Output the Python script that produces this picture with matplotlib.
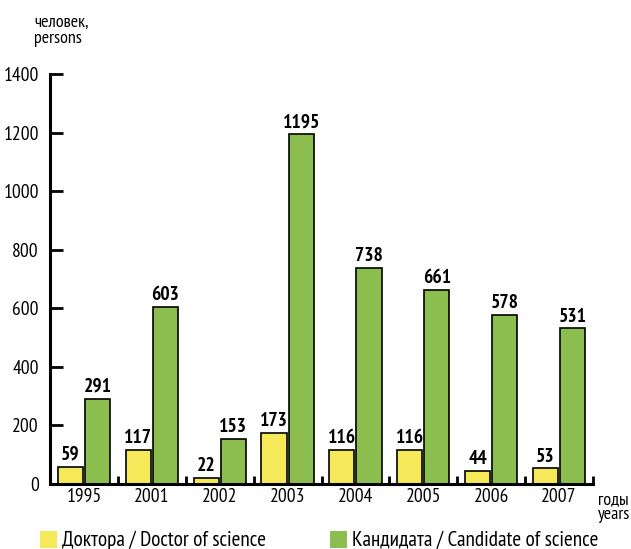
import matplotlib.pyplot as plt
import numpy as np
from matplotlib.patches import Rectangle

years = ['1995', '2001', '2002', '2003', '2004', '2005', '2006', '2007']
doctors = [59, 117, 22, 173, 116, 116, 44, 53]
candidates = [291, 603, 153, 1195, 738, 661, 578, 531]
yticks = [0, 200, 400, 600, 800, 1000, 1200, 1400]

plt.rcParams['font.family'] = ['PT Sans Narrow', 'DejaVu Sans']

yellow = '#f5e95a'
green = '#8cbd4f'

fig = plt.figure(figsize=(6.31, 5.49), dpi=100)
W, H = 631, 549
ax = fig.add_axes([50 / W, 65 / H, 543 / W, 410 / H])

x = np.arange(len(years)) + 0.5
bw = 0.37
ax.bar(x - 0.2, doctors, bw, color=yellow, edgecolor='black', linewidth=1.2)
ax.bar(x + 0.2, candidates, bw, color=green, edgecolor='black', linewidth=1.2)

for xi, v in zip(x - 0.2, doctors):
    ax.text(xi, v + 10, str(v), ha='center', va='bottom', fontsize=14, fontweight='bold')
for xi, v in zip(x + 0.2, candidates):
    ax.text(xi, v + 10, str(v), ha='center', va='bottom', fontsize=14, fontweight='bold')

ax.set_xlim(0, len(years))
ax.set_ylim(0, 1400)
ax.set_yticks(yticks)
ax.set_yticklabels([str(t) for t in yticks], fontsize=14)
ax.tick_params(axis='y', direction='in', length=9, width=2, pad=8)

# group separators as x ticks, labels at centres as minor ticks
ax.set_xticks(np.arange(1, len(years) + 1))
ax.set_xticklabels([])
ax.tick_params(axis='x', which='major', direction='in', length=6, width=2)
ax.set_xticks(x, minor=True)
ax.set_xticklabels(years, minor=True, fontsize=14)
ax.tick_params(axis='x', which='minor', length=0, pad=3)

for s in ['top', 'right']:
    ax.spines[s].set_visible(False)
for s in ['left', 'bottom']:
    ax.spines[s].set_linewidth(2.2)

fig.text(34 / W, 1 - 31 / H, 'человек,\npersons', fontsize=13, va='center', ha='left', linespacing=1.0)
fig.text(598 / W, 1 - 508 / H, 'годы\nyears', fontsize=13, va='center', ha='left', linespacing=0.9)

# legend
fig.patches.append(Rectangle((40 / W, 1 - 548 / H), 17 / W, 17 / H, transform=fig.transFigure,
                             facecolor=yellow, edgecolor='none'))
fig.text(62 / W, 1 - 540 / H, 'Доктора / Doctor of science', fontsize=15.3, va='center', ha='left')
fig.patches.append(Rectangle((330 / W, 1 - 548 / H), 17 / W, 17 / H, transform=fig.transFigure,
                             facecolor=green, edgecolor='none'))
fig.text(352 / W, 1 - 540 / H, 'Кандидата / Candidate of science', fontsize=15.3, va='center', ha='left')

fig.savefig('out.png', dpi=100)
